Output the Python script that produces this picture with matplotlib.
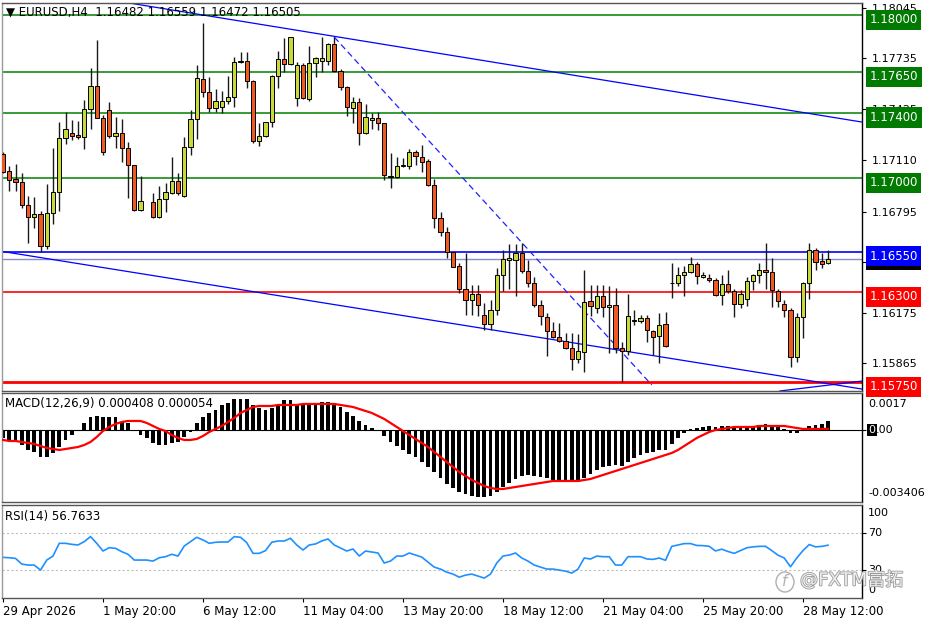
import numpy as np
import matplotlib
matplotlib.use("Agg")
import matplotlib.pyplot as plt
import matplotlib.transforms as mtrans
import matplotlib.patheffects as pe
from matplotlib.patches import Ellipse

plt.rcParams['font.family'] = ['DejaVu Sans', 'Noto Sans CJK SC']

# ---- data (H4 bars, index 0 = 29 Apr 2026 04:00) ----
nan = np.nan
open_ = [1.17148, 1.17044, 1.16995, 1.16976, 1.16835, 1.16762, 1.16780, 1.16584, 1.16786, 1.16915,
         1.17246, 1.17277, 1.17264, 1.17252, 1.17424, 1.17565, 1.17369, 1.17418, 1.17258, 1.17277,
         1.17185, 1.17080, 1.16804, nan, 1.16854, 1.16762, 1.16872, 1.16909, 1.16982, 1.16890,
         1.17191, 1.17362, 1.17608, 1.17528, 1.17430, 1.17436, 1.17473, 1.17497, 1.17718, 1.17718,
         1.17595, 1.17228, 1.17258, 1.17344, 1.17626, 1.17730, 1.17700, 1.17491, 1.17693, 1.17485,
         1.17706, 1.17718, 1.17718, 1.17822, 1.17657, 1.17559, 1.17430, 1.17467, 1.17277, 1.17356,
         1.17369, 1.17338, 1.17013, 1.17007, 1.17074, 1.17074, 1.17160, 1.17129, 1.17105, 1.16958,
         1.16755, 1.16670, 1.16547, 1.16461, 1.16320, 1.16253, 1.16290, 1.16161, 1.16106, 1.16191,
         1.16406, 1.16498, 1.16498, 1.16541, 1.16430, 1.16357, 1.16222, 1.16148, 1.16063, 1.16026,
         1.16001, 1.15958, 1.15891, 1.15934, 1.16247, 1.16204, 1.16277, 1.16210, 1.16222, 1.15958,
         1.15940, 1.16124, 1.16124, 1.16142, 1.16063, 1.16032, 1.16106, 1.16357, 1.16357, 1.16406,
         1.16424, 1.16473, 1.16394, 1.16388, 1.16375, 1.16283, 1.16351, 1.16308, 1.16228, 1.16259,
         1.16369, 1.16406, 1.16437, 1.16424, 1.16308, 1.16228, 1.16191, 1.15903, 1.16148, 1.16357,
         1.16559, 1.16492, 1.16482]
high = [1.17160, 1.17074, 1.17087, 1.17031, 1.16890, 1.16884, 1.16798, 1.16964, 1.17185, 1.17344,
        1.17405, 1.17356, 1.17350, 1.17479, 1.17675, 1.17847, 1.17387, 1.17467, 1.17375, 1.17362,
        1.17221, 1.17080, 1.17013, nan, 1.16909, 1.16952, 1.16970, 1.17129, 1.17031, 1.17252,
        1.17418, 1.17693, 1.17951, 1.17620, 1.17546, 1.17534, 1.17626, 1.17743, 1.17773, 1.17773,
        1.17602, 1.17338, 1.17344, 1.17632, 1.17779, 1.17859, 1.17865, 1.17712, 1.17706, 1.17810,
        1.17743, 1.17865, 1.17828, 1.17865, 1.17669, 1.17565, 1.17497, 1.17491, 1.17454, 1.17399,
        1.17405, 1.17338, 1.17154, 1.17129, 1.17123, 1.17178, 1.17172, 1.17203, 1.17117, 1.16995,
        1.16792, 1.16700, 1.16547, 1.16480, 1.16541, 1.16345, 1.16345, 1.16234, 1.16253, 1.16449,
        1.16559, 1.16596, 1.16596, 1.16602, 1.16498, 1.16394, 1.16253, 1.16173, 1.16118, 1.16112,
        1.16050, 1.16050, 1.16044, 1.16437, 1.16345, 1.16345, 1.16345, 1.16339, 1.16326, 1.15995,
        1.16290, 1.16191, 1.16161, 1.16161, 1.16069, 1.16173, 1.16179, 1.16480, 1.16455, 1.16461,
        1.16516, 1.16486, 1.16424, 1.16412, 1.16388, 1.16406, 1.16437, 1.16320, 1.16314, 1.16394,
        1.16412, 1.16480, 1.16602, 1.16510, 1.16320, 1.16253, 1.16204, 1.16173, 1.16363, 1.16602,
        1.16571, 1.16541, 1.16559]
low = [1.17031, 1.16921, 1.16921, 1.16817, 1.16602, 1.16694, 1.16547, 1.16565, 1.16719, 1.16798,
       1.17209, 1.17234, 1.17240, 1.17178, 1.17301, 1.17369, 1.17142, 1.17246, 1.17185, 1.17099,
       1.16878, 1.16798, 1.16798, nan, 1.16755, 1.16755, 1.16792, 1.16903, 1.16896, 1.16884,
       1.17142, 1.17240, 1.17497, 1.17405, 1.17405, 1.17399, 1.17454, 1.17436, 1.17706, 1.17552,
       1.17215, 1.17197, 1.17252, 1.17313, 1.17552, 1.17651, 1.17693, 1.17442, 1.17485, 1.17473,
       1.17620, 1.17651, 1.17693, 1.17651, 1.17540, 1.17381, 1.17338, 1.17203, 1.17270, 1.17301,
       1.17295, 1.16988, 1.16939, 1.17001, 1.17068, 1.17056, 1.17080, 1.17037, 1.16952, 1.16694,
       1.16645, 1.16510, 1.16455, 1.16296, 1.16161, 1.16161, 1.16155, 1.16069, 1.16069, 1.16161,
       1.16308, 1.16320, 1.16277, 1.16418, 1.16332, 1.16210, 1.16099, 1.15909, 1.16020, 1.15995,
       1.15952, 1.15824, 1.15866, 1.15811, 1.16155, 1.16173, 1.16148, 1.15928, 1.15928, 1.15750,
       1.15915, 1.16099, 1.16112, 1.15995, 1.15915, 1.15866, 1.15965, 1.16265, 1.16339, 1.16277,
       1.16418, 1.16351, 1.16388, 1.16363, 1.16277, 1.16222, 1.16296, 1.16148, 1.16204, 1.16216,
       1.16314, 1.16357, 1.16320, 1.16210, 1.16210, 1.16148, 1.15842, 1.15873, 1.16020, 1.16259,
       1.16437, 1.16449, 1.16472]
close = [1.17037, 1.16988, 1.16976, 1.16835, 1.16762, 1.16780, 1.16584, 1.16786, 1.16915, 1.17246,
         1.17301, 1.17258, 1.17252, 1.17424, 1.17565, 1.17369, 1.17160, 1.17258, 1.17277, 1.17185,
         1.17080, 1.16804, 1.16860, nan, 1.16762, 1.16872, 1.16915, 1.16982, 1.16909, 1.17191,
         1.17362, 1.17614, 1.17528, 1.17430, 1.17473, 1.17473, 1.17497, 1.17712, 1.17712, 1.17595,
         1.17228, 1.17258, 1.17344, 1.17626, 1.17730, 1.17700, 1.17865, 1.17693, 1.17491, 1.17706,
         1.17736, 1.17736, 1.17822, 1.17657, 1.17559, 1.17436, 1.17467, 1.17277, 1.17375, 1.17369,
         1.17338, 1.17019, 1.17007, 1.17074, 1.17080, 1.17160, 1.17136, 1.17099, 1.16958, 1.16755,
         1.16670, 1.16547, 1.16455, 1.16320, 1.16253, 1.16290, 1.16222, 1.16106, 1.16191, 1.16406,
         1.16504, 1.16510, 1.16541, 1.16430, 1.16357, 1.16222, 1.16155, 1.16063, 1.16026, 1.16001,
         1.15958, 1.15891, 1.15940, 1.16240, 1.16216, 1.16277, 1.16210, 1.16222, 1.15958, 1.15940,
         1.16155, 1.16130, 1.16142, 1.16069, 1.16026, 1.16099, 1.15971, 1.16357, 1.16406, 1.16424,
         1.16473, 1.16400, 1.16406, 1.16375, 1.16283, 1.16351, 1.16308, 1.16228, 1.16290, 1.16369,
         1.16406, 1.16437, 1.16424, 1.16314, 1.16247, 1.16191, 1.15903, 1.16148, 1.16357, 1.16559,
         1.16486, 1.16473, 1.16505]

# MACD(12,26,9) in units of 1e-6
macd_main_e6 = [-374, -468, -562, -702, -936, -1030, -1264, -1264, -1076, -796,
                -468, -234, -20, 328, 608, 655, 608, 608, 608, 374,
                328, 20, -234, -374, -608, -702, -702, -608, -562, -328,
                -94, 328, 608, 796, 936, 1170, 1264, 1451, 1451, 1451,
                1170, 1030, 936, 1030, 1170, 1404, 1404, 1217, 1217, 1217,
                1264, 1310, 1310, 1264, 1076, 842, 655, 421, 234, 94,
                -47, -281, -562, -749, -936, -1123, -1264, -1498, -1732, -1966,
                -2246, -2527, -2714, -2902, -2995, -3089, -3136, -3136, -3089, -2902,
                -2668, -2480, -2293, -2153, -2106, -2153, -2200, -2246, -2340, -2387,
                -2434, -2434, -2434, -2246, -2059, -1872, -1732, -1685, -1638, -1685,
                -1498, -1310, -1170, -1076, -1030, -936, -936, -655, -374, -140,
                47, 94, 140, 187, 140, 187, 187, 140, 94, 140,
                187, 234, 281, 234, 140, 47, -140, -140, 10, 187,
                234, 300, 408]
macd_signal_e6 = [-468, -515, -515, -562, -608, -655, -749, -842, -889, -936,
                  -889, -842, -796, -702, -562, -328, -47, 140, 281, 374,
                  421, 421, 421, 328, 187, 47, -47, -234, -374, -468,
                  -468, -421, -281, -94, 47, 187, 374, 562, 796, 936,
                  1076, 1123, 1123, 1123, 1170, 1170, 1170, 1170, 1217, 1217,
                  1217, 1217, 1217, 1217, 1170, 1123, 1076, 983, 889, 796,
                  655, 515, 328, 140, -47, -234, -421, -608, -796, -1030,
                  -1264, -1498, -1732, -1966, -2153, -2340, -2480, -2621, -2714, -2761,
                  -2761, -2714, -2668, -2621, -2574, -2527, -2480, -2434, -2387, -2387,
                  -2387, -2387, -2387, -2340, -2293, -2200, -2106, -2012, -1919, -1825,
                  -1732, -1638, -1544, -1451, -1357, -1264, -1170, -1076, -936, -749,
                  -562, -374, -234, -94, 0, 47, 94, 140, 140, 140,
                  140, 187, 187, 187, 187, 187, 140, 94, 47, 47,
                  47, 47, 54]
rsi = [43.7, 43.3, 42.6, 36.5, 35.4, 35.4, 30.0, 40.8, 45.1, 58.8,
       58.8, 57.7, 57.0, 60.6, 66.0, 58.8, 50.5, 54.1, 53.4, 49.8,
       47.0, 40.8, 40.8, 40.8, 39.7, 43.3, 44.4, 47.0, 45.1, 55.9,
       60.6, 65.3, 62.4, 58.8, 59.9, 60.2, 60.2, 66.0, 65.3, 59.5,
       48.0, 48.0, 50.9, 59.9, 61.3, 61.3, 64.2, 57.0, 51.6, 57.0,
       58.1, 61.3, 63.5, 57.0, 53.8, 50.5, 52.7, 45.1, 50.5, 49.5,
       48.4, 37.6, 39.7, 45.1, 45.1, 48.4, 46.2, 44.0, 38.6, 33.2,
       31.1, 27.8, 25.7, 22.4, 24.6, 25.7, 23.5, 21.4, 25.7, 37.6,
       45.1, 46.2, 48.4, 43.0, 39.7, 35.4, 33.2, 31.1, 31.1, 30.0,
       28.9, 26.8, 31.1, 43.0, 41.9, 45.1, 44.4, 44.4, 35.4, 35.4,
       44.4, 44.4, 44.4, 42.0, 41.5, 43.0, 40.5, 55.5, 57.0, 58.5,
       58.5, 56.5, 56.3, 55.6, 50.6, 52.5, 50.0, 48.0, 51.0, 54.0,
       55.0, 55.5, 55.6, 51.0, 46.0, 43.0, 33.6, 43.0, 51.0, 57.5,
       55.0, 55.5, 56.7633]

tick_bars = [0, 16, 32, 48, 64, 80, 96, 112, 128]
tick_text = ["29 Apr 2026", "1 May 20:00", "6 May 12:00", "11 May 04:00", "13 May 20:00",
             "18 May 12:00", "21 May 04:00", "25 May 20:00", "28 May 12:00"]
price_ticks = [1.18045, 1.17735, 1.17425, 1.17110, 1.16795, 1.16485, 1.16175, 1.15865]

green_levels = [1.18000, 1.17650, 1.17400, 1.17000]
blue_levels = [1.16550]
red_levels = [1.16300, 1.15750]
bid = 1.16505

# trend lines as (bar, price) anchor pairs
trend_upper = [(19.2, 1.18080), (137.44, 1.17344)]
trend_lower = [(-0.5, 1.16553), (137.44, 1.15707)]
trend_dash = [(53.0, 1.17865), (103.8, 1.15732)]
trend_small = [(124.3, 1.15695), (137.44, 1.15756)]

# ---- figure ----
W, H = 936, 624
fig = plt.figure(figsize=(W / 100, H / 100), dpi=100)
fig.patch.set_facecolor('white')


def px_axes(x0, y0, x1, y1):
    return fig.add_axes([x0 / W, 1 - y1 / H, (x1 - x0) / W, (y1 - y0) / H])


ax1 = px_axes(2, 3, 862, 391)
ax2 = px_axes(2, 393, 862, 502)
ax3 = px_axes(2, 505, 862, 598)

xlim = (-0.16, 137.44)
for ax in (ax1, ax2, ax3):
    ax.set_xlim(*xlim)
    ax.set_facecolor('white')
    for s in ax.spines.values():
        s.set_color('#555555')
        s.set_linewidth(1.0)
    ax.spines['left'].set_color('#999999')
    ax.spines['right'].set_color('black')
    ax.yaxis.tick_right()
    ax.tick_params(axis='y', direction='out', length=3, width=0.8, pad=4,
                   labelsize=8, colors='black')
    ax.tick_params(axis='x', bottom=False, labelbottom=False)

idx = np.arange(len(close))
o = np.array(open_); h = np.array(high); l = np.array(low); c = np.array(close)
ok = ~np.isnan(c)

# ---- main panel ----
ax1.set_ylim(1.15695, 1.18074)
for lv in green_levels:
    ax1.axhline(lv, color='#008000', lw=1.1, zorder=1)
for lv in blue_levels:
    ax1.axhline(lv, color='#0000ff', lw=1.2, zorder=1)
ax1.axhline(bid, color='#8a8ad0', lw=1.0, zorder=1)
ax1.axhline(red_levels[0], color='#ff0000', lw=1.2, zorder=1)
ax1.axhline(red_levels[1], color='#ff0000', lw=2.0, zorder=1)

for line in (trend_upper, trend_lower, trend_small):
    (xa, ya), (xb, yb) = line
    ax1.plot([xa, xb], [ya, yb], color='#0000ff', lw=0.9, zorder=1.5)
(xa, ya), (xb, yb) = trend_dash
ax1.plot([xa, xb], [ya, yb], color='#2020ff', lw=0.9, ls=(0, (5, 3)), zorder=1.5)

ax1.vlines(idx[ok], l[ok], h[ok], color='#1a1a1a', lw=1.0, zorder=2)
bull = c >= o
body_col = np.where(bull, '#c9d83a', '#ef5a22')
ax1.bar(idx[ok], (c - o)[ok], bottom=o[ok], width=0.68, color=body_col[ok],
        edgecolor='black', linewidth=0.7, zorder=3)

ax1.set_yticks(price_ticks)
ax1.set_yticklabels([f'{t:.5f}' for t in price_ticks])

blend1 = mtrans.blended_transform_factory(ax1.transAxes, ax1.transData)
shift = 0.00028


def level_box(ax, tr, val, fc, z, ypos=None):
    y = val - shift if ypos is None else ypos
    ax.text(1.0087, y, f'{val:.5f}', transform=tr, color='white', fontsize=8.5,
            ha='left', va='center', clip_on=False, zorder=z,
            bbox=dict(boxstyle='square,pad=0.3', fc=fc, ec='none'))


# current bid label sits just under the blue level label
level_box(ax1, blend1, bid, 'black', 9, ypos=blue_levels[0] - shift - 0.00024)
for lv in green_levels:
    level_box(ax1, blend1, lv, '#007a00', 10)
for lv in blue_levels:
    level_box(ax1, blend1, lv, '#0000ff', 10)
for lv in red_levels:
    level_box(ax1, blend1, lv, '#ff0000', 10)

ax1.text(0.005, 0.977, '\u25bc EURUSD,H4  %.5f %.5f %.5f %.5f' % (o[-1], h[-1], l[-1], c[-1]),
         transform=ax1.transAxes, fontsize=8.5, va='center', ha='left', zorder=11)

# ---- MACD panel ----
macd_main = np.array(macd_main_e6) * 1e-6
macd_sig = np.array(macd_signal_e6) * 1e-6
ax2.set_ylim(-0.00337, 0.00173)
ax2.axhline(0, color='black', lw=0.8, zorder=1)
ax2.bar(idx, macd_main, width=0.62, color='black', zorder=2)
ax2.plot(idx, macd_sig, color='#ff0000', lw=1.6, zorder=3)
ax2.set_yticks([0])
ax2.set_yticklabels([''])
ax2.text(1.007, 0.899, '0.0017', transform=ax2.transAxes, fontsize=8, va='center', ha='left')
ax2.text(1.007, 0.083, '-0.003406', transform=ax2.transAxes, fontsize=8, va='center', ha='left')
ax2.text(1.0075, 0.66, '0', transform=ax2.transAxes, fontsize=8, va='center', ha='left',
         color='white', bbox=dict(boxstyle='square,pad=0.1', fc='black', ec='none'))
ax2.text(1.0165, 0.66, '.00', transform=ax2.transAxes, fontsize=8, va='center', ha='left')
ax2.text(0.0035, 0.9, 'MACD(12,26,9) %.6f %.6f' % (macd_main[-1], macd_sig[-1]),
         transform=ax2.transAxes, fontsize=8.5, va='center', ha='left')

# ---- RSI panel ----
ax3.set_ylim(0, 100)
for lv in (70, 30):
    ax3.axhline(lv, color='#c0c0c0', lw=0.8, ls=(0, (2, 2)), zorder=1)
ax3.plot(idx, rsi, color='#1e90ff', lw=1.2, zorder=2)
ax3.set_yticks([70, 30])
ax3.set_yticklabels(['', ''])
for val, yy in (('100', 0.914), ('70', 0.699), ('30', 0.301), ('0', 0.086)):
    ax3.text(1.007, yy, val, transform=ax3.transAxes, fontsize=8, va='center', ha='left')
ax3.text(0.0035, 0.88, 'RSI(14) %.4f' % rsi[-1], transform=ax3.transAxes, fontsize=8.5,
         va='center', ha='left')

ax3.set_xticks(tick_bars)
ax3.set_xticklabels(tick_text)
ax3.tick_params(axis='x', bottom=True, labelbottom=True, direction='out', length=3,
                width=0.8, pad=2, labelsize=8.5)
for lab in ax3.get_xticklabels():
    lab.set_ha('left')

# watermark with its round logo
fig.patches.append(Ellipse((785 / W, 1 - 582 / H), 18 / W, 20 / H, transform=fig.transFigure,
                           fill=False, ec='#b0b0b0', lw=1.0))
fig.text(785 / W, 1 - 582 / H, 'f', fontsize=11, color='#b0b0b0', ha='center',
         va='center', style='italic')
fig.text(800 / W, 1 - 580 / H, '@FXTM富拓', fontsize=13, color='#eeeeee', ha='left',
         va='center', path_effects=[pe.withStroke(linewidth=1.2, foreground='#9a9a9a')])

fig.savefig('out.png', dpi=100)
